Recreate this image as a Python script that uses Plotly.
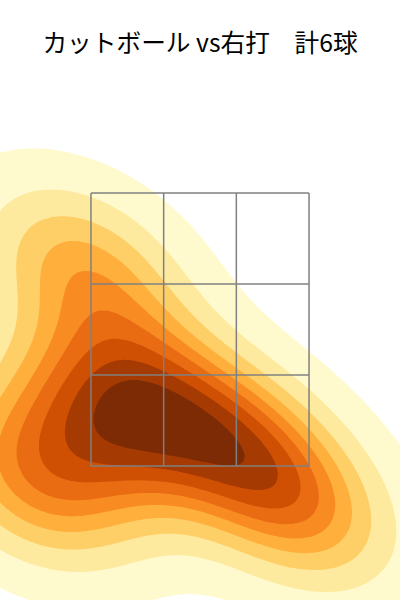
import numpy as np
import plotly.graph_objects as go
import plotly.colors as pc

# ---- data: pitch locations (plate x in ft, height z in ft) ----
pitch_x = [-1.10, -0.71, -0.39, 0.23, 0.62, -0.75]
pitch_z = [1.34, 1.73, 2.04, 1.71, 1.19, 2.95]

zone_x = [-0.708, 0.708]
zone_z = [1.5, 3.5]

title_text = "カットボール vs右打\u3000計6球"

# ---- gaussian KDE (Scott's rule, full covariance) ----
data = np.vstack([pitch_x, pitch_z])
n = data.shape[1]
factor = n ** (-1.0 / 6.0)
kcov = np.cov(data) * factor ** 2
inv = np.linalg.inv(kcov)
norm = 1.0 / (2 * np.pi * np.sqrt(np.linalg.det(kcov)))
bw = np.sqrt(np.diag(kcov))
cut, gridsize = 3, 200
gx = np.linspace(data[0].min() - cut * bw[0], data[0].max() + cut * bw[0], gridsize)
gz = np.linspace(data[1].min() - cut * bw[1], data[1].max() + cut * bw[1], gridsize)
XX, ZZ = np.meshgrid(gx, gz)
dens = np.zeros_like(XX)
for px, pz in zip(pitch_x, pitch_z):
    dx = XX - px
    dz = ZZ - pz
    q = inv[0, 0] * dx * dx + 2 * inv[0, 1] * dx * dz + inv[1, 1] * dz * dz
    dens += np.exp(-0.5 * q)
dens *= norm / n

# iso-proportion levels
isoprop = np.linspace(0.05, 1, 10)
vals = np.sort(dens.ravel())[::-1]
cum = np.cumsum(vals) / vals.sum()
idx = np.searchsorted(cum, 1 - isoprop)
levels = np.sort(np.take(vals, idx, mode="clip"))

# band colours (layer midpoints normalised over level range)
mids = 0.5 * (levels[:-1] + levels[1:])
t = (mids - levels[0]) / (levels[-1] - levels[0])
band_cols = pc.sample_colorscale("YlOrBr", list(t))
cols = ["rgb(255,255,255)"] + band_cols
cscale = [[i / (len(cols) - 1), c] for i, c in enumerate(cols)]

# map density to band index so integer contours equal the iso levels
lev_ext = np.concatenate([[0.0], levels])
idx_ext = np.arange(-1, len(levels))
zband = np.interp(dens, lev_ext, idx_ext)

fig = go.Figure()
fig.add_trace(go.Contour(
    x=gx, y=gz, z=zband,
    colorscale=cscale,
    contours=dict(start=0, end=len(levels) - 2, size=1, coloring="fill", showlines=False),
    line=dict(width=0),
    showscale=False,
    hoverinfo="skip",
))

# strike zone 3x3 grid
xs = np.linspace(zone_x[0], zone_x[1], 4)
zs = np.linspace(zone_z[0], zone_z[1], 4)
for xv in xs:
    fig.add_shape(type="line", x0=xv, x1=xv, y0=zone_z[0], y1=zone_z[1],
                  line=dict(color="#808080", width=1.5))
for zv in zs:
    fig.add_shape(type="line", x0=zone_x[0], x1=zone_x[1], y0=zv, y1=zv,
                  line=dict(color="#808080", width=1.5))

fig.update_layout(
    width=400, height=600,
    margin=dict(l=0, r=0, t=90, b=0),
    paper_bgcolor="white", plot_bgcolor="white",
    title=dict(text=title_text, x=0.5, xanchor="center", y=1 - 43 / 600, yanchor="middle",
               yref="container",
               font=dict(family="Noto Sans CJK JP", size=24.7, color="black")),
    xaxis=dict(range=[-200 / 154, 200 / 154], visible=False, showgrid=False, zeroline=False),
    yaxis=dict(range=[1.5 + (466 - 600) / 136.5, 1.5 + (466 - 90) / 136.5], visible=False,
               showgrid=False, zeroline=False),
    showlegend=False,
)

fig.write_html("out.html", config={"displayModeBar": False},
               post_script="document.body.style.margin='0';")
